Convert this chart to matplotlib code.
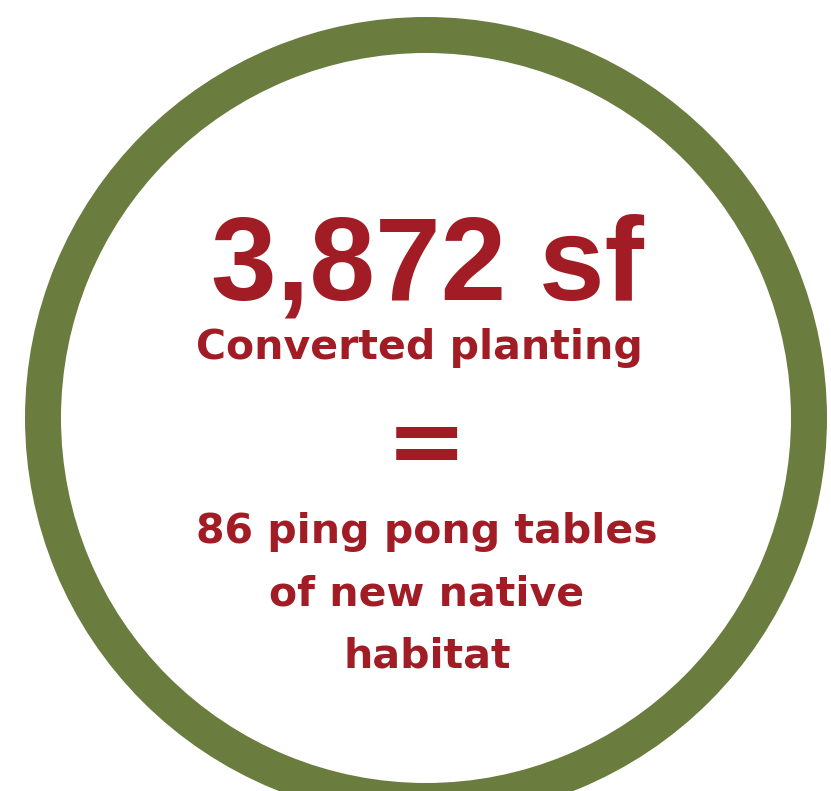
import matplotlib.pyplot as plt
from matplotlib.patches import Wedge

# values shown on the graphic
area_sf = 3872
area_label = "Converted planting"
tables = 86
table_lines = ["ping pong tables", "of new native", "habitat"]

RED = "#a11c25"
GREEN = "#6b7c3f"
BIG_FONT = "Liberation Sans"
SMALL_FONT = "DejaVu Sans"

fig = plt.figure(figsize=(8.31, 7.91), dpi=100)
ax = fig.add_axes([0, 0, 1, 1])
ax.set_xlim(0, 831)
ax.set_ylim(791, 0)
ax.set_aspect("equal")
ax.axis("off")

# green ring
ring = Wedge((426, 418), 401, 0, 360, width=36, facecolor=GREEN, edgecolor="none")
ax.add_patch(ring)

cx = 427
ax.text(cx, 300, f"{area_sf:,} sf", ha="center", va="baseline",
        fontsize=85, fontweight="bold", color=RED, family=BIG_FONT)
ax.text(cx - 8, 359, area_label, ha="center", va="baseline",
        fontsize=29.5, fontweight="bold", color=RED, family=SMALL_FONT)
ax.text(cx - 1, 474, "=", ha="center", va="baseline",
        fontsize=70, fontweight="bold", color=RED, family=SMALL_FONT)

lines = [f"{tables} {table_lines[0]}"] + table_lines[1:]
for i, line in enumerate(lines):
    ax.text(cx, 543 + i * 62, line, ha="center", va="baseline",
            fontsize=29.5, fontweight="bold", color=RED, family=SMALL_FONT)

fig.savefig("out.png", dpi=100, facecolor="white")
